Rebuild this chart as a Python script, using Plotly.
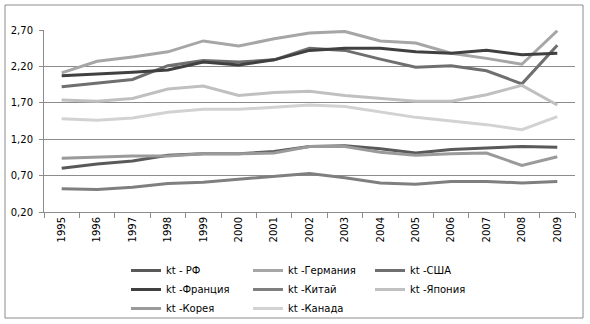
import plotly.graph_objects as go

years = ["1995", "1996", "1997", "1998", "1999", "2000", "2001", "2002",
         "2003", "2004", "2005", "2006", "2007", "2008", "2009"]

kt_rf      = [0.80, 0.86, 0.90, 0.98, 1.00, 1.00, 1.03, 1.10, 1.11, 1.07, 1.01, 1.06, 1.08, 1.10, 1.09]
kt_germany = [2.11, 2.27, 2.33, 2.40, 2.55, 2.48, 2.58, 2.66, 2.68, 2.55, 2.52, 2.38, 2.31, 2.23, 2.69]
kt_usa     = [1.92, 1.97, 2.02, 2.21, 2.28, 2.26, 2.29, 2.45, 2.42, 2.30, 2.19, 2.21, 2.14, 1.96, 2.49]
kt_france  = [2.07, 2.09, 2.12, 2.15, 2.26, 2.22, 2.29, 2.42, 2.45, 2.45, 2.40, 2.38, 2.42, 2.36, 2.38]
kt_china   = [0.52, 0.51, 0.54, 0.59, 0.61, 0.65, 0.69, 0.73, 0.67, 0.60, 0.58, 0.62, 0.62, 0.60, 0.62]
kt_japan   = [1.74, 1.72, 1.76, 1.89, 1.93, 1.80, 1.84, 1.86, 1.80, 1.76, 1.72, 1.72, 1.81, 1.94, 1.67]
kt_korea   = [0.94, 0.96, 0.97, 0.97, 1.00, 1.00, 1.01, 1.10, 1.10, 1.02, 0.98, 1.00, 1.01, 0.84, 0.96]
kt_canada  = [1.48, 1.46, 1.49, 1.57, 1.61, 1.61, 1.64, 1.67, 1.65, 1.58, 1.50, 1.45, 1.40, 1.33, 1.51]

y_tickvals = [0.20, 0.70, 1.20, 1.70, 2.20, 2.70]
y_ticktext = ["0,20", "0,70", "1,20", "1,70", "2,20", "2,70"]

# (legend label, values, colour, legend column)
series = [
    ("kt - РФ", kt_rf, "#595959", "legend"),
    ("kt -Германия", kt_germany, "#a6a6a6", "legend2"),
    ("kt -США", kt_usa, "#6f6f6f", "legend3"),
    ("kt -Франция", kt_france, "#404040", "legend"),
    ("kt -Китай", kt_china, "#7f7f7f", "legend2"),
    ("kt -Япония", kt_japan, "#c0c0c0", "legend3"),
    ("kt -Корея", kt_korea, "#9a9a9a", "legend"),
    ("kt -Канада", kt_canada, "#d2d2d2", "legend2"),
]

W, H = 590, 324
ML, MR, MT, MB = 44, 15, 30, 112
pw, ph = W - ML - MR, H - MT - MB

fig = go.Figure()
for name, vals, color, leg in series:
    fig.add_trace(go.Scatter(x=years, y=vals, name=name, mode="lines",
                             line=dict(color=color, width=3), legend=leg))


def px_x(x):
    return (x - ML) / pw


def px_y(y):
    return (H - MB - y) / ph


axis_gray = "#8c8c8c"
leg_font = dict(family="DejaVu Sans", size=10, color="black")


def legend_col(x_left):
    return dict(orientation="v", x=px_x(x_left), xanchor="left",
                y=px_y(256), yanchor="top", traceorder="normal",
                bgcolor="rgba(0,0,0,0)", itemwidth=30, font=leg_font)


fig.update_layout(
    width=W, height=H,
    margin=dict(l=ML, r=MR, t=MT, b=MB, autoexpand=False),
    paper_bgcolor="white", plot_bgcolor="white",
    font=dict(family="DejaVu Sans", size=10, color="black"),
    showlegend=True,
    legend=legend_col(126),
    legend2=legend_col(248),
    legend3=legend_col(370),
    xaxis=dict(type="category", range=[-0.5, 14.5], tickangle=-90,
               showgrid=False, showline=True, linecolor=axis_gray, linewidth=1,
               ticks="outside", ticklen=5, tickcolor=axis_gray,
               tickson="boundaries", zeroline=False),
    yaxis=dict(range=[0.2, 2.7], tickvals=y_tickvals, ticktext=y_ticktext,
               showgrid=True, gridcolor=axis_gray, gridwidth=1,
               showline=True, linecolor=axis_gray, linewidth=1,
               ticks="outside", ticklen=4, tickcolor=axis_gray,
               zeroline=False, ticklabelstandoff=4),
    shapes=[dict(type="rect", xref="paper", yref="paper",
                 x0=px_x(5), x1=px_x(583), y0=px_y(318), y1=px_y(5),
                 line=dict(color=axis_gray, width=1), layer="below")],
)

fig.write_html("out.html")
